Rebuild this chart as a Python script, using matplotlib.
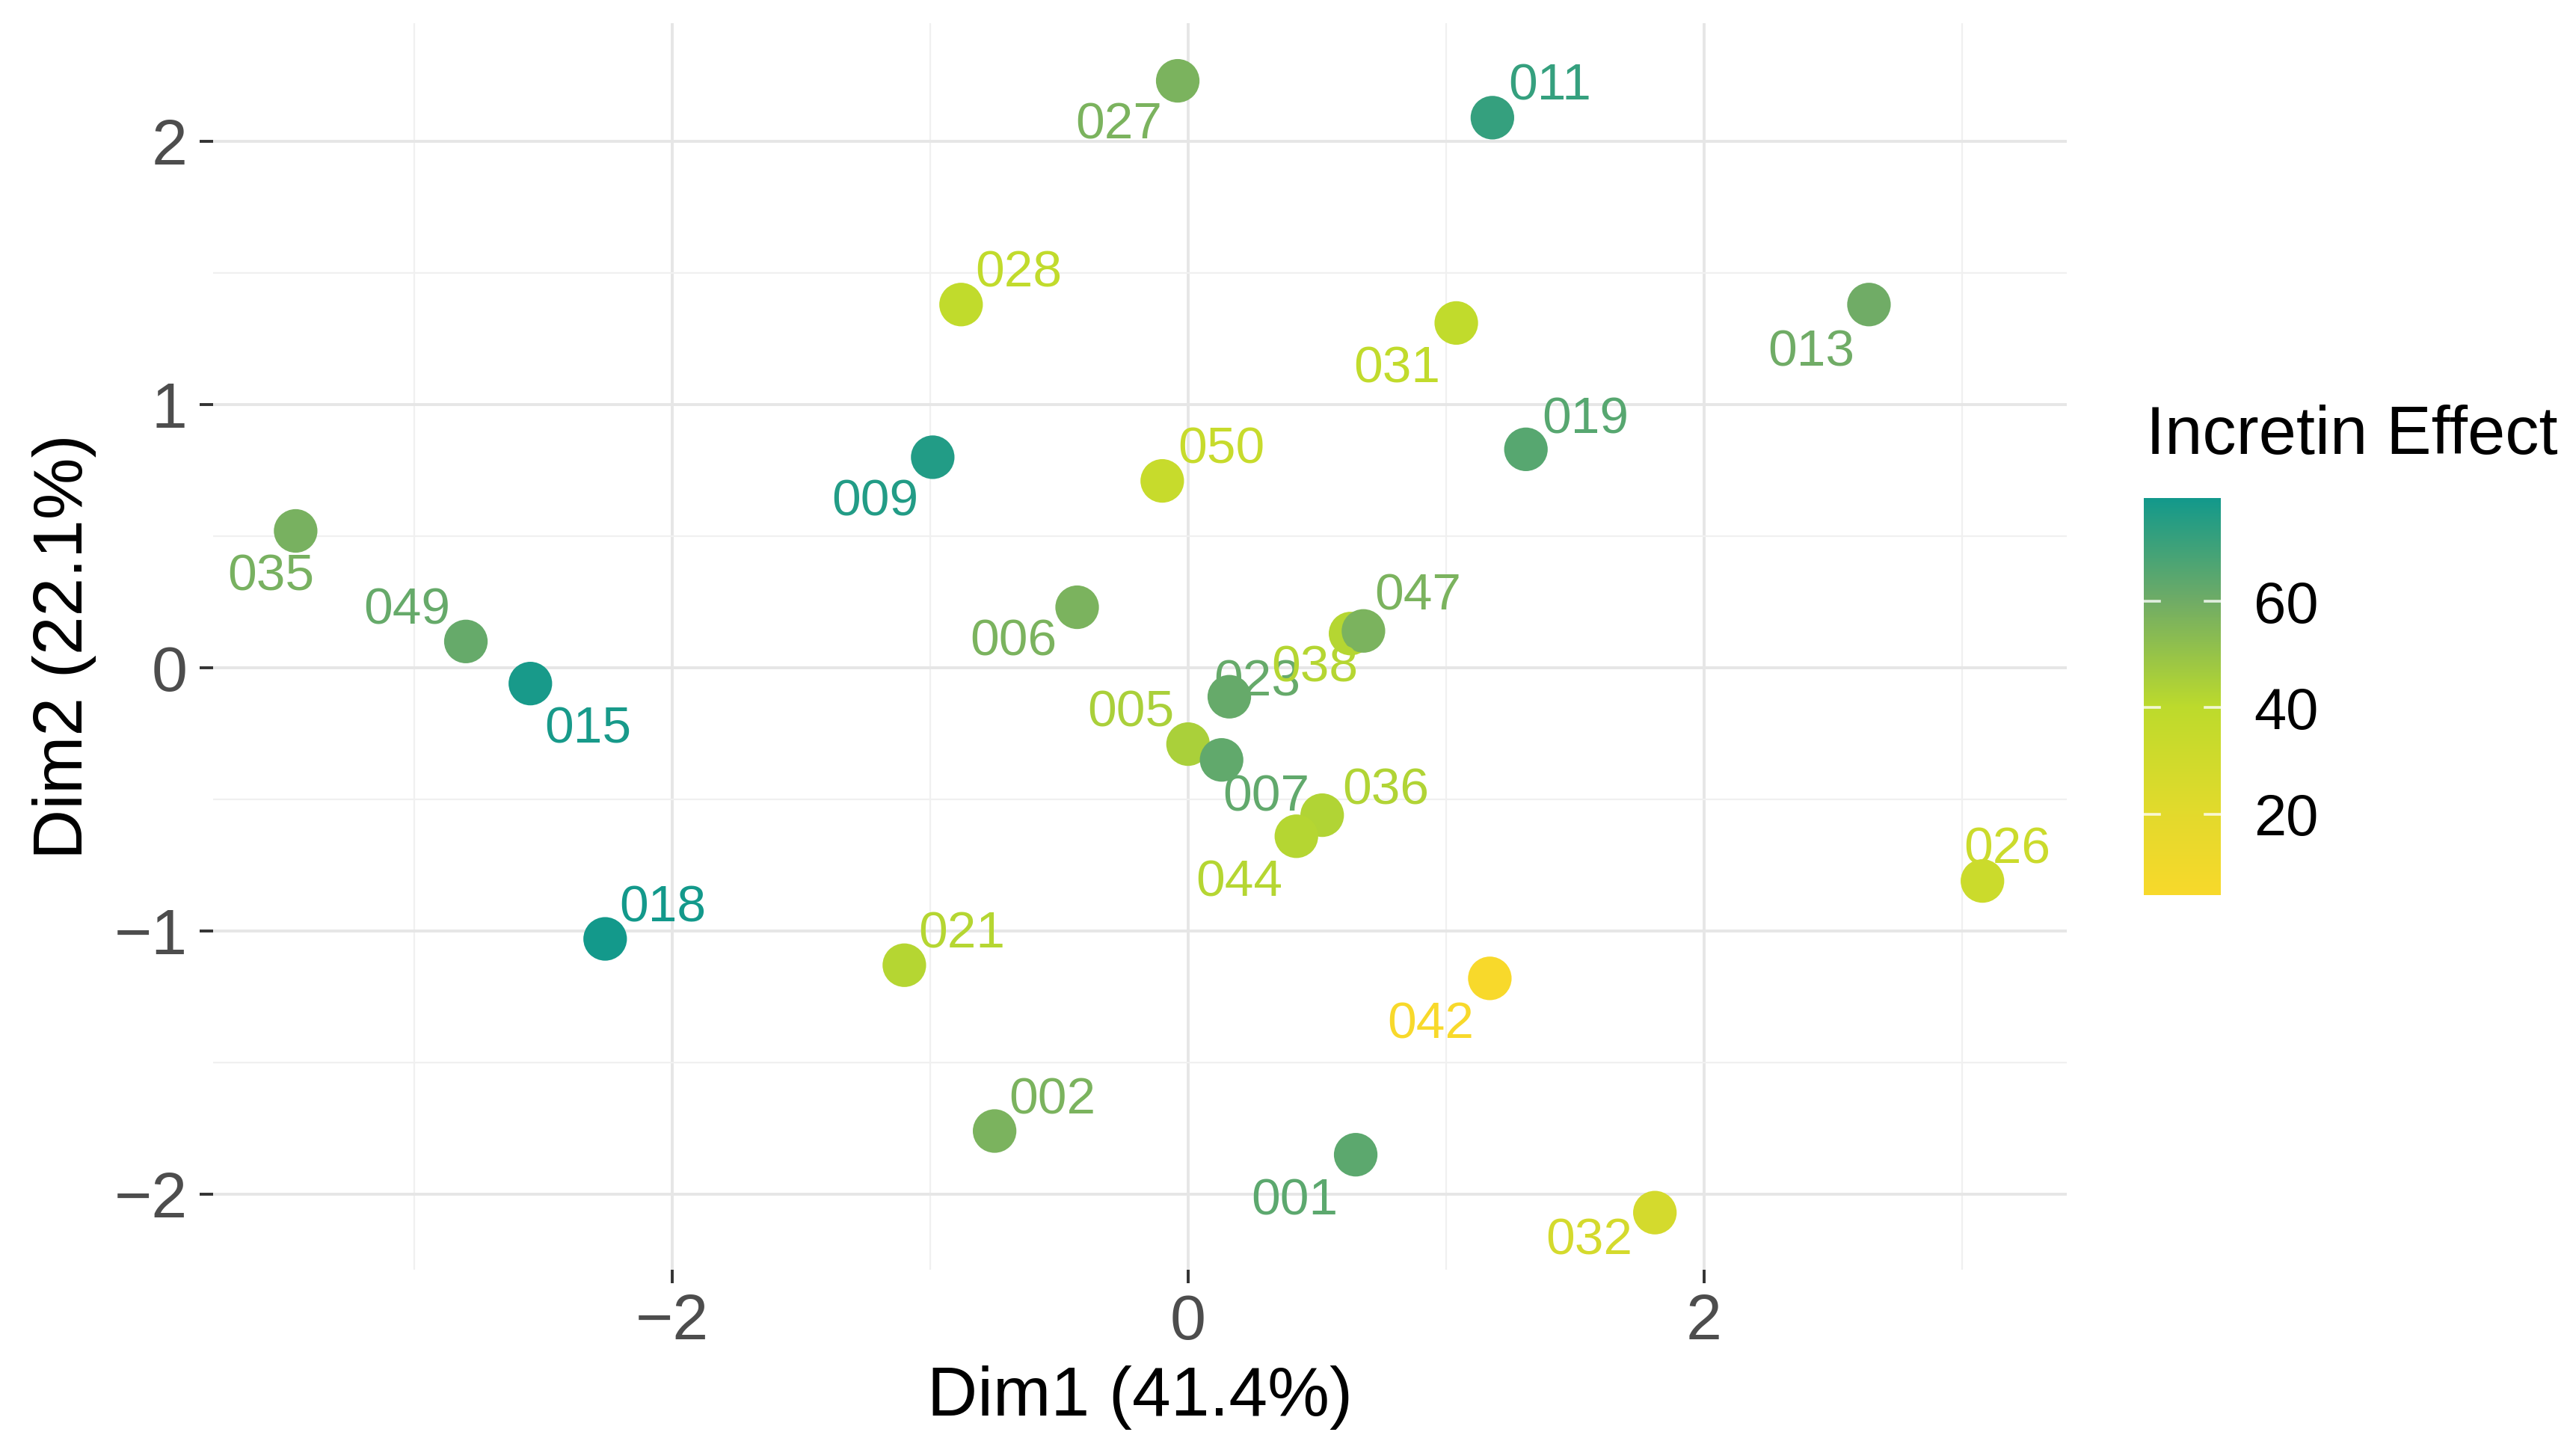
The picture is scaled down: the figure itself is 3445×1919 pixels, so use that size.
import matplotlib
matplotlib.use("Agg")
import matplotlib.pyplot as plt
from matplotlib.colors import LinearSegmentedColormap, Normalize
import numpy as np

plt.rcParams['font.family'] = ['Liberation Sans', 'DejaVu Sans']

# PCA individuals: sample IDs, coordinates on the first two dimensions, incretin effect
sample_ids = ["001", "002", "005", "006", "007", "009", "011", "013", "015", "018",
              "019", "021", "023", "026", "027", "028", "031", "032", "035", "036",
              "038", "042", "044", "047", "049", "050"]
dim1 = [0.65, -0.75, 0.00, -0.43, 0.13, -0.99, 1.18, 2.64, -2.55, -2.26,
        1.31, -1.10, 0.16, 3.08, -0.04, -0.88, 1.04, 1.81, -3.46, 0.52,
        0.63, 1.17, 0.42, 0.68, -2.80, -0.10]
dim2 = [-1.85, -1.76, -0.29, 0.23, -0.35, 0.80, 2.09, 1.38, -0.06, -1.03,
        0.83, -1.13, -0.11, -0.81, 2.23, 1.38, 1.31, -2.07, 0.52, -0.56,
        0.13, -1.18, -0.64, 0.14, 0.10, 0.71]
incretin_effect = [64, 57, 45, 57, 63, 76, 72, 60, 78, 79,
                   65, 42, 62, 33, 57, 38, 38, 28, 58, 43,
                   42, 5, 42, 57, 62, 35]

x_ticks = [-2, 0, 2]
y_ticks = [-2, -1, 0, 1, 2]
cbar_ticks = [20, 40, 60]
x_title = "Dim1 (41.4%)"
y_title = "Dim2 (22.1%)"
legend_title = "Incretin Effect"

# label offsets (points) relative to each marker, repelled layout
label_offsets = {
    "027": (-28.5, -19.0), "011": (27.7, 17.4), "028": (27.7, 17.4),
    "031": (-28.5, -19.8), "013": (-27.7, -20.6), "019": (28.5, 16.6),
    "009": (-27.7, -19.0), "050": (28.5, 17.4), "035": (-11.9, -19.8),
    "006": (-30.8, -14.2), "047": (26.1, 19.0), "038": (-17.4, -14.2),
    "049": (-28.5, 17.4), "015": (27.7, -19.8), "023": (13.4, 9.5),
    "005": (-27.7, 17.4), "007": (21.4, -15.8), "036": (30.8, 14.2),
    "044": (-27.7, -19.8), "026": (11.9, 17.4), "018": (27.7, 17.4),
    "021": (27.7, 17.4), "042": (-28.5, -19.8), "002": (27.7, 17.4),
    "001": (-29.3, -19.8), "032": (-31.6, -11.1),
}

vmin, vmax = 4.8, 79.4
stops = [(4.8, "#f8d92b"), (20, "#e3da2d"), (40, "#bddb2c"),
         (60, "#70ac66"), (79.4, "#12998c")]
cmap = LinearSegmentedColormap.from_list(
    "incretin", [((v - vmin) / (vmax - vmin), c) for v, c in stops])
norm = Normalize(vmin=vmin, vmax=vmax)

W, H, DPI = 3445, 1919, 200
fig = plt.figure(figsize=(W / DPI, H / DPI), dpi=DPI)
fig.patch.set_facecolor("white")

left, right, top, bottom = 285, 2764, 31, 1698
ax = fig.add_axes([left / W, 1 - bottom / H, (right - left) / W, (bottom - top) / H])
ax.set_xlim(-3.78, 3.407)
ax.set_ylim(-2.287, 2.449)

# grid
ax.set_xticks(x_ticks)
ax.set_yticks(y_ticks)
ax.set_xticks([-3, -1, 1, 3], minor=True)
ax.set_yticks([-1.5, -0.5, 0.5, 1.5], minor=True)
ax.grid(True, which="major", color="#e6e6e6", linewidth=1.4, zorder=0)
ax.grid(True, which="minor", color="#f0f0f0", linewidth=0.8, zorder=0)
ax.set_axisbelow(True)
for s in ax.spines.values():
    s.set_visible(False)
ax.tick_params(which="major", length=6.5, width=1.4, color="#333333",
               labelsize=31, labelcolor="#4d4d4d")
ax.tick_params(axis="x", which="major", pad=4.7)
ax.tick_params(axis="y", which="major", pad=5.8)
ax.tick_params(which="minor", length=0)
ax.set_xticklabels(["\u22122", "0", "2"])
ax.set_yticklabels(["\u22122", "\u22121", "0", "1", "2"])

colors = [cmap(norm(v)) for v in incretin_effect]
ax.scatter(dim1, dim2, c=incretin_effect, cmap=cmap, norm=norm, s=440,
           linewidths=0, zorder=3)

label_size = 25
digit_half = 0.716 * label_size / 2
for sid, x, y, col in zip(sample_ids, dim1, dim2, colors):
    dx, dy = label_offsets[sid]
    ax.annotate(sid, (x, y), xytext=(dx, dy - digit_half), textcoords="offset points",
                ha="center", va="baseline", fontsize=label_size, color=col, zorder=4)

# axis titles
fig.text((left + right) / 2 / W, 1 - 1893 / H, x_title, ha="center", va="baseline",
         fontsize=33.5, color="black")
fig.text(86 / W, 1 - (top + bottom) / 2 / H, y_title, ha="center", va="center",
         rotation=90, fontsize=33.5, color="black")

# colour bar legend
cax = fig.add_axes([2867 / W, 1 - 1197 / H, 103 / W, 531 / H])
grad = np.linspace(vmin, vmax, 512).reshape(-1, 1)
cax.imshow(grad, aspect="auto", origin="lower", cmap=cmap, norm=norm,
           extent=[0, 1, vmin, vmax])
cax.set_xlim(0, 1)
cax.set_ylim(vmin, vmax)
for t in cbar_ticks:
    cax.plot([0, 0.2], [t, t], color="white", lw=1.3, alpha=0.8)
    cax.plot([0.8, 1], [t, t], color="white", lw=1.3, alpha=0.8)
for s in cax.spines.values():
    s.set_visible(False)
cax.set_xticks([])
cax.yaxis.tick_right()
cax.set_yticks(cbar_ticks)
cax.set_yticklabels([str(t) for t in cbar_ticks])
cax.tick_params(axis="y", length=0, pad=16, labelsize=28, labelcolor="black")

fig.text(2870 / W, 1 - 607 / H, legend_title, ha="left", va="baseline",
         fontsize=32.5, color="black")

fig.savefig("out.png", dpi=DPI, facecolor="white")
